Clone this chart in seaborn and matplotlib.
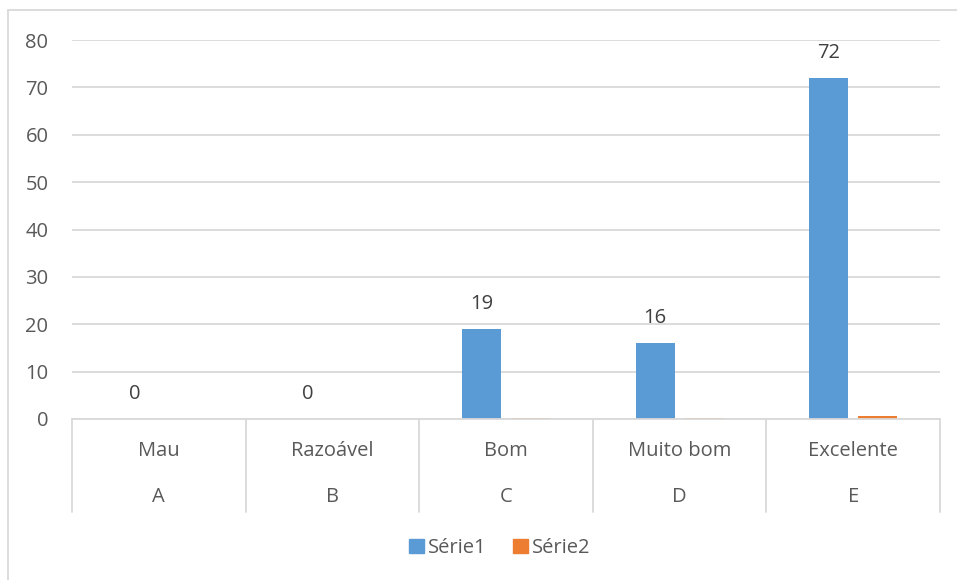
import matplotlib
matplotlib.use("Agg")
import matplotlib.pyplot as plt
import matplotlib.transforms as mtransforms
from matplotlib.lines import Line2D
import seaborn as sns
import pandas as pd

# Chart data
ratings = ["Mau", "Razoável", "Bom", "Muito bom", "Excelente"]
letters = ["A", "B", "C", "D", "E"]
serie1 = [0, 0, 19, 16, 72]
serie2 = [0, 0, 0.19, 0.16, 0.72]
series_names = ["Série1", "Série2"]
y_ticks = [0, 10, 20, 30, 40, 50, 60, 70, 80]

df = pd.DataFrame({
    "cat": ratings * 2,
    "val": serie1 + serie2,
    "serie": [series_names[0]] * len(ratings) + [series_names[1]] * len(ratings),
})

sns.set_theme(style="white")
plt.rcParams["font.family"] = ["Open Sans", "DejaVu Sans"]
text_color = "#595959"
grid_color = "#D9D9D9"
fs = 14.5

W, H = 957, 580
fig = plt.figure(figsize=(W / 100, H / 100), dpi=100)
ax = fig.add_axes([72 / W, 1 - 419 / H, (940 - 72) / W, (419 - 40) / H])

sns.barplot(data=df, x="cat", y="val", hue="serie", order=ratings,
            palette=["#5B9BD5", "#ED7D31"], width=0.564, gap=0.2,
            saturation=1, linewidth=0, ax=ax, legend=False)

ax.set_xlim(-0.5, len(ratings) - 0.5)
ax.set_ylim(0, 80)
ax.set_yticks(y_ticks)
ax.set_yticklabels([str(t) for t in y_ticks], color=text_color, fontsize=fs)
ax.tick_params(axis="y", length=0, pad=17)
ax.set_xticks([])
ax.set_xlabel("")
ax.set_ylabel("")
ax.yaxis.grid(True, color=grid_color, linewidth=1.3)
ax.set_axisbelow(True)
for s in ["top", "right", "left"]:
    ax.spines[s].set_visible(False)
ax.spines["bottom"].set_color(grid_color)
ax.spines["bottom"].set_linewidth(1.3)

# Value labels above Série1 bars
ax.bar_label(ax.containers[0], labels=[str(v) for v in serie1],
             padding=11, color="#404040", fontsize=fs)

# Two-level category axis below the plot
trans = mtransforms.blended_transform_factory(ax.transData, ax.transAxes)
sep_bottom = -(512 - 419) / (419 - 40)
for i in range(len(ratings) + 1):
    ax.add_line(Line2D([i - 0.5, i - 0.5], [0, sep_bottom], transform=trans,
                       color=grid_color, linewidth=1.3, clip_on=False))
for i, (name, letter) in enumerate(zip(ratings, letters)):
    ax.text(i, -(451 - 419) / (419 - 40), name, transform=trans,
            ha="center", va="center", color=text_color, fontsize=fs)
    ax.text(i, -(497 - 419) / (419 - 40), letter, transform=trans,
            ha="center", va="center", color=text_color, fontsize=fs)

# Legend
handles = [plt.Rectangle((0, 0), 1, 1, color=c) for c in ["#5B9BD5", "#ED7D31"]]
fig.legend(handles, series_names, loc="center", bbox_to_anchor=(500 / W, 1 - 548 / H),
           ncol=2, frameon=False, handlelength=0.75, handleheight=0.75,
           handletextpad=0.2, columnspacing=1.3, labelcolor=text_color, fontsize=fs)

# Chart area border
fig.add_artist(Line2D([8 / W, 8 / W], [0, 1 - 10 / H], transform=fig.transFigure,
                      color=grid_color, linewidth=1.3))
fig.add_artist(Line2D([8 / W, 1], [1 - 10 / H, 1 - 10 / H], transform=fig.transFigure,
                      color=grid_color, linewidth=1.3))

fig.savefig("out.png", dpi=100)
